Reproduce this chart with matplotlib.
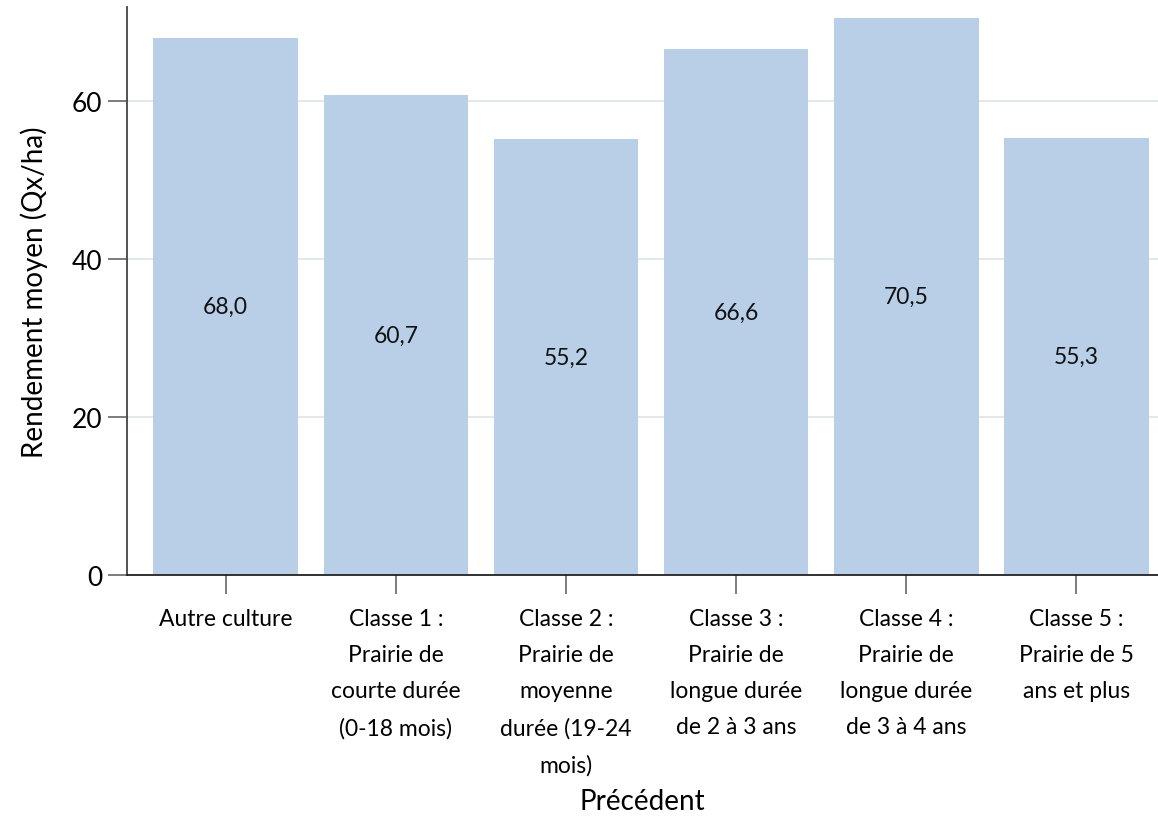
import numpy as np
import matplotlib
matplotlib.use("Agg")
import matplotlib.pyplot as plt

plt.rcParams['font.family'] = ['Lato', 'DejaVu Sans']

# --- données ---
categories = [
    "Autre culture",
    "Classe 1 :\nPrairie de\ncourte durée\n(0-18 mois)",
    "Classe 2 :\nPrairie de\nmoyenne\ndurée (19-24\nmois)",
    "Classe 3 :\nPrairie de\nlongue durée\nde 2 à 3 ans",
    "Classe 4 :\nPrairie de\nlongue durée\nde 3 à 4 ans",
    "Classe 5 :\nPrairie de 5\nans et plus",
]
rendement = [68.0, 60.7, 55.2, 66.6, 70.5, 55.3]
yticks = [0, 20, 40, 60]

W, H = 1158, 829
fig = plt.figure(figsize=(W / 100, H / 100), dpi=100)
ax = fig.add_axes([127 / W, (H - 576) / H, (W - 127) / W, (576 - 8) / H])

x = np.arange(len(categories))
bars = ax.bar(x, rendement, width=0.85, color='#b9cfe7', zorder=2)

# étiquettes de valeur au milieu des barres
for xi, v in zip(x, rendement):
    ax.text(xi, v / 2, f"{v:.1f}".replace('.', ','), ha='center', va='center',
            fontsize=16.5, color='#111111', zorder=3)

ax.set_xlim(-0.58, 5.48)
ax.set_ylim(0, 71.9)
ax.set_yticks(yticks)
ax.set_xticks(x)
ax.set_xticklabels(categories, fontsize=16.5, linespacing=1.88)
ax.tick_params(axis='y', labelsize=19, length=14, width=1.2, color='#666666', pad=4)
ax.tick_params(axis='x', length=14, width=1.2, color='#666666', pad=10)

ax.grid(axis='y', color='#e3e9e8', linewidth=1.5, zorder=0)
ax.set_axisbelow(True)

for s in ['top', 'right']:
    ax.spines[s].set_visible(False)
ax.spines['left'].set_color('#444444')
ax.spines['left'].set_linewidth(1.3)
ax.spines['bottom'].set_color('#222222')
ax.spines['bottom'].set_linewidth(1.3)

ax.set_xlabel("Précédent", fontsize=20, labelpad=9)
ax.set_ylabel("Rendement moyen (Qx/ha)", fontsize=20, labelpad=17)

fig.savefig("out.png", dpi=100)
